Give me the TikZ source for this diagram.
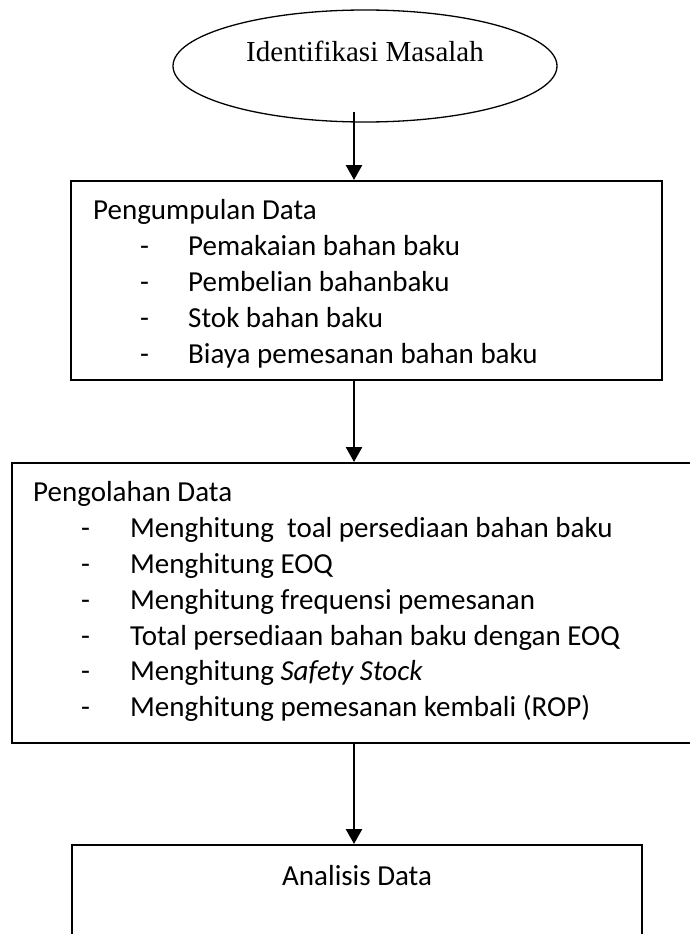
\documentclass[tikz,border=0pt]{standalone}
\usepackage{fontspec}
\setmainfont{Carlito}
\newfontfamily\tnr{Liberation Serif}
\usetikzlibrary{arrows.meta,shapes.geometric}
\begin{document}
\begin{tikzpicture}[x=1pt,y=-1pt,
  box/.style={draw=black,line width=2pt,rectangle,inner sep=0pt},
  arr/.style={line width=2.5pt,-{Triangle[length=15pt,width=16pt]}},
  txt/.style={anchor=base west,inner sep=0pt,font=\fontsize{29}{36}\selectfont},
  ctxt/.style={anchor=base,inner sep=0pt,font=\fontsize{29}{36}\selectfont}]
\useasboundingbox (0,0) rectangle (689,934);
% ellipse
\node[draw=black,line width=1.3pt,ellipse,inner sep=0pt,minimum width=384pt,minimum height=112pt] (e) at (365,66) {};
\node[ctxt,font=\tnr\fontsize{29}{36}\selectfont] (et) at (365,62) {Identifikasi Masalah};
% boxes
\node[box,minimum width=591pt,minimum height=199pt] (b1) at (366.5,280.5) {};
\node[box,minimum width=720pt,minimum height=280pt] (b2) at (372,603) {};
\node[box,minimum width=570pt,minimum height=130pt] (b4) at (357,910) {};
% arrows
\coordinate (ax) at (354,112);
\draw[arr] (ax) -- (ax |- b1.north);
\draw[arr] (ax |- b1.south) -- (ax |- b2.north);
\draw[arr] (ax |- b2.south) -- (ax |- b4.north);
% box 1 text
\node[txt] (t1) at (93,219) {Pengumpulan Data};
\node[txt] (d11) at (140,255) {-};
\node[txt] (i11) at (188,255) {Pemakaian bahan baku};
\node[txt] (d12) at (140,291) {-};
\node[txt] (i12) at (188,291) {Pembelian bahanbaku};
\node[txt] (d13) at (140,327) {-};
\node[txt] (i13) at (188,327) {Stok bahan baku};
\node[txt] (d14) at (140,363) {-};
\node[txt] (i14) at (188,363) {Biaya pemesanan bahan baku};
% box 2 text
\node[txt] (t2) at (33,501) {Pengolahan Data};
\node[txt] (d21) at (81,537) {-};
\node[txt] (i21) at (130,537) {Menghitung\ \ toal persediaan bahan baku};
\node[txt] (d22) at (81,573) {-};
\node[txt] (i22) at (130,573) {Menghitung EOQ};
\node[txt] (d23) at (81,609) {-};
\node[txt] (i23) at (130,609) {Menghitung frequensi pemesanan};
\node[txt] (d24) at (81,645) {-};
\node[txt] (i24) at (130,645) {Total persediaan bahan baku dengan EOQ};
\node[txt] (d25) at (81,680) {-};
\node[txt] (i25) at (130,680) {Menghitung \textit{Safety Stock}};
\node[txt] (d26) at (81,716) {-};
\node[txt] (i26) at (130,716) {Menghitung pemesanan kembali (ROP)};
% box 4 text
\node[txt] (t4) at (282,885) {Analisis Data};
\end{tikzpicture}
\end{document}
